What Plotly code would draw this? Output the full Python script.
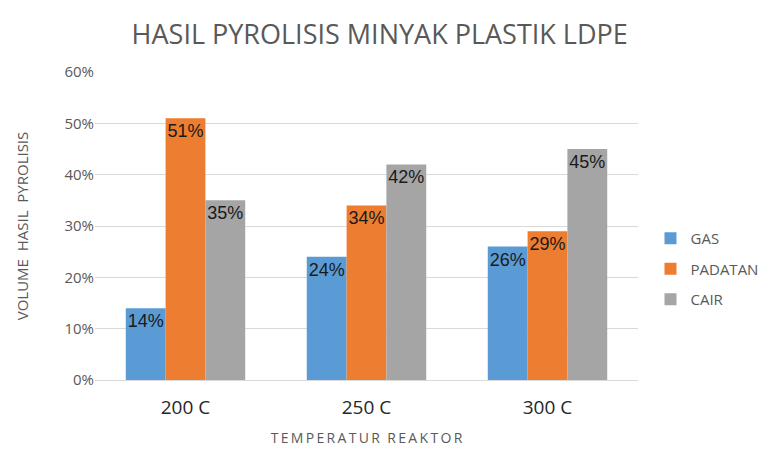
import plotly.graph_objects as go

categories = ["200 C", "250 C", "300 C"]
gas = [0.14, 0.24, 0.26]
padatan = [0.51, 0.34, 0.29]
cair = [0.35, 0.42, 0.45]
series_names = ["GAS", "PADATAN", "CAIR"]
colors = ["#5B9BD5", "#ED7D31", "#A5A5A5"]
y_ticks = [0, 0.1, 0.2, 0.3, 0.4, 0.5, 0.6]

FONT = "Open Sans, Liberation Sans, sans-serif"
TS = "\u2009"

fig = go.Figure()
for i, (name, vals) in enumerate(zip(series_names, [gas, padatan, cair])):
    fig.add_trace(go.Bar(
        x=categories, y=vals, name=name, marker_color=colors[i],
        marker_line_width=0,
        text=[f"{round(v*100)}%" for v in vals],
        textposition="inside", insidetextanchor="end",
        constraintext="none", textangle=0,
        textfont=dict(family="Liberation Sans, Arial, sans-serif", size=18, color="#1a1a1a"),
        legendgroup=name,
    ))

fig.update_layout(
    width=768, height=450,
    barmode="group", bargap=0.34, bargroupgap=0,
    paper_bgcolor="white", plot_bgcolor="white",
    margin=dict(l=87, r=109, t=64, b=78),
    title=dict(text="HASIL PYROLISIS MINYAK PLASTIK LDPE", x=0.484, xanchor="center",
               y=0.94, yanchor="middle",
               font=dict(family=FONT, size=27, color="#595959")),
    legend=dict(x=1.023, y=0.36, xanchor="left", yanchor="middle",
                font=dict(family=FONT, size=15, color="#595959"),
                tracegroupgap=8, itemwidth=30),
    font=dict(family=FONT),
)
fig.update_yaxes(range=[0, 0.6], tickvals=y_ticks, tickformat=".0%",
                 showgrid=True, gridcolor="#D9D9D9", gridwidth=1, zeroline=False,
                 showline=False, ticks="", ticklen=0,
                 tickfont=dict(size=15, color="#595959"),
                 title=dict(text="VOLUME  HASIL  PYROLISIS", standoff=32,
                            font=dict(size=15, color="#595959")))
fig.update_xaxes(showline=True, linecolor="#D9D9D9", linewidth=1,
                 tickfont=dict(size=19, color="#262626"), ticks="",
                 ticklabelstandoff=10,
                 title=dict(text=TS.join("TEMPERATUR") + "  " + TS.join("REAKTOR"), standoff=14,
                            font=dict(size=14, color="#595959")))

fig.write_html("out.html")
